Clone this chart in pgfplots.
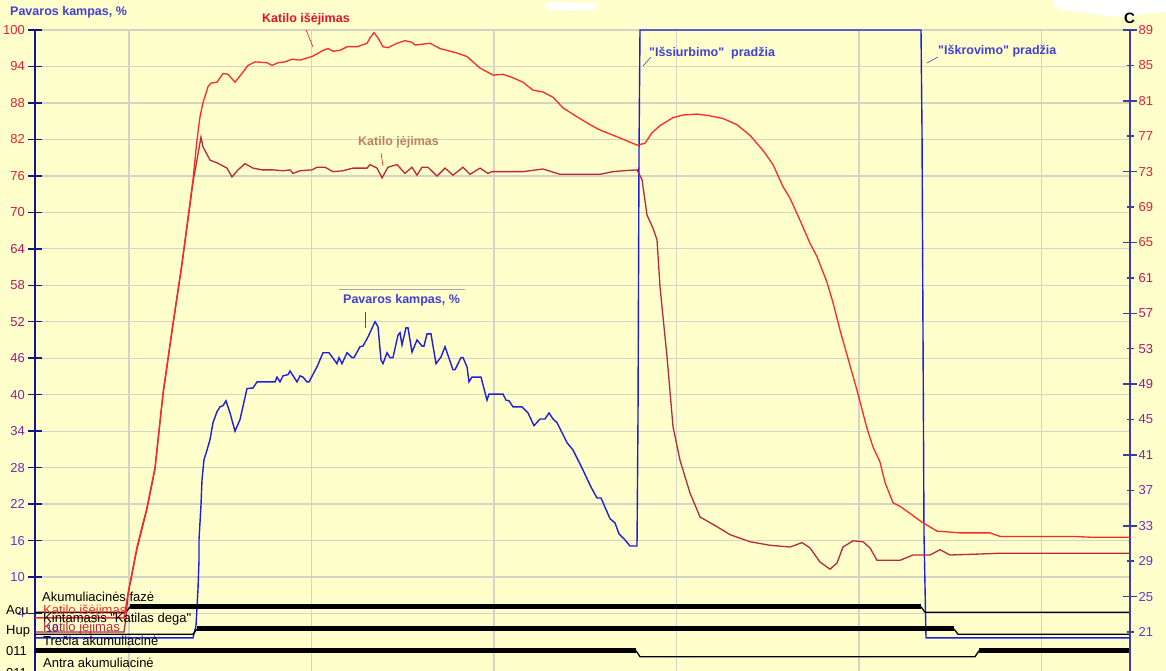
\documentclass[border=0pt]{standalone}
\usepackage{fontspec}
\setmainfont{Liberation Sans}
\usepackage{pgfplots}
\pgfplotsset{compat=1.18}
\definecolor{bgy}{RGB}{255,255,204}
\definecolor{gridc}{RGB}{212,212,196}
\definecolor{navyL}{RGB}{20,20,140}
\definecolor{navyR}{RGB}{60,60,170}
\definecolor{outred}{RGB}{255,40,40}
\definecolor{inred}{RGB}{185,40,60}
\definecolor{pblue}{RGB}{30,30,220}
\definecolor{blueT}{RGB}{64,64,216}
\definecolor{redT}{RGB}{232,16,40}
\definecolor{brownT}{RGB}{192,128,96}
\newcommand{\tc}[4]{\textcolor[RGB]{#1,#2,#3}{#4}}
\newcommand{\fR}{\fontsize{13}{15}\selectfont}
\newcommand{\fB}{\fontsize{12.5}{15}\selectfont\bfseries}
\newcommand{\q}{\textquotedbl}
\begin{document}
\begin{tikzpicture}[x=1pt,y=1pt]
\fill[bgy] (0,0) rectangle (1166,671);
\fill[white] (1053,671) -- (1053,664) -- (1063,661) -- (1100,656) -- (1125,654) -- (1150,658) -- (1166,659) -- (1166,671) -- cycle;
\fill[white] (545,663) -- (560,660) -- (595,661) -- (598,668) -- (548,669) -- cycle;
% ---------- left axis (Pavaros kampas, %) ----------
\begin{axis}[
  at={(35pt,0pt)}, anchor=south west,
  scale only axis, width=1095pt, height=641pt,
  xmin=35, xmax=1130, ymin=-5.46, ymax=100,
  axis y line*=left, axis x line*=bottom,
  x axis line style={draw=none},
  xtick={129,311.5,494,676.5,859,1041.5}, xticklabels={},
  xtick style={draw=none},
  ytick={4,10,...,100},
  yticklabels={{\tc{90}{60}{215}{4}},{\tc{95}{55}{210}{10}},{\tc{100}{50}{205}{16}},{\tc{110}{45}{190}{22}},{\tc{120}{40}{180}{28}},{\tc{130}{35}{165}{34}},{\tc{140}{35}{150}{40}},{\tc{150}{30}{140}{46}},{\tc{165}{25}{120}{52}},{\tc{180}{25}{105}{58}},{\tc{195}{20}{90}{64}},{\tc{210}{20}{70}{70}},{\tc{230}{30}{50}{76}},{\tc{230}{30}{50}{82}},{\tc{230}{30}{50}{88}},{\tc{230}{30}{50}{94}},{\tc{230}{30}{50}{100}}},
  xmajorgrids, ymajorgrids,
  major grid style={gridc, line width=1.3pt},
  y axis line style={navyL, line width=1.5pt},
  ytick style={navyL, line width=1.5pt},
  tick align=center, major tick length=14pt,
  yticklabel style={font=\fR, anchor=east, inner sep=0pt, xshift=-3pt},
]
% Pavaros kampas, %
\addplot[pblue, line width=1.4pt] coordinates {
(35,0)(193,0)(196,2)(198,8)(199,12.8)(199,16.1)(201,21.9)(202,26.0)(204,29.3)(207,30.9)(210,32.6)(213,35.4)(217,37.2)(220,38.0)(223,38.2)(226,39.0)(230,37.0)(235,34.0)(240,35.9)(247,41.0)(253,41.1)(257,42.1)(275,42.1)(277,42.9)(280,42.1)(283,43.1)(288,43.3)(290,43.9)(297,42.1)(300,43.1)(303,42.9)(307,42.1)(309,42.1)(317,44.6)(323,46.9)(329,46.9)(337,45.1)(339,46.1)(342,45.1)(347,46.9)(352,46.1)(354,46.1)(360,47.9)(363,48.0)(368,49.5)(375,52.0)(378,51.2)(381,45.7)(383,45.1)(387,46.9)(390,46.1)(393,46.1)(398,49.8)(400,50.2)(402,48.2)(406,51.0)(408,51.0)(412,47.0)(417,49.0)(422,48.0)(424,48.0)(427,50.0)(431,50.0)(436,45.1)(441,46.2)(445,47.9)(453,44.1)(455,44.1)(461,46.1)(463,46.1)(467,44.6)(469,42.1)(472,42.9)(481,42.9)(487,39.1)(489,40.1)(503,40.1)(506,39.1)(509,39.0)(513,38.0)(522,38.0)(528,37.0)(534,34.9)(540,36.0)(545,36.0)(549,37.0)(553,36.0)(557,35.4)(567,32.1)(573,30.9)(583,27.6)(591,24.8)(597,23.0)(601,23.0)(610,19.6)(615,18.9)(619,17.1)(625,16.1)(630,15.1)(637,15.1)(638,36.3)(639,80)(640,100)(921,100)(922,83.4)(923,50)(924,17)(926,0)(1130,0)};
% Acu
\addplot[black, line width=1.3pt] coordinates {(35,4.2)(126,4.2)(130,5.12)};
\addplot[black, line width=5pt] coordinates {(130,5.12)(921,5.12)};
\addplot[black, line width=1.3pt] coordinates {(921,5.12)(925,4.2)(1130,4.2)};
% Hup
\addplot[black, line width=1.3pt] coordinates {(35,0.58)(193,0.58)(197,1.45)};
\addplot[black, line width=5pt] coordinates {(197,1.45)(954,1.45)};
\addplot[black, line width=1.3pt] coordinates {(954,1.45)(958,0.58)(1130,0.58)};
% 011
\addplot[black, line width=5pt] coordinates {(35,-2.12)(636,-2.12)};
\addplot[black, line width=1.3pt] coordinates {(636,-2.12)(640,-3.11)(975,-3.11)(979,-2.12)};
\addplot[black, line width=5pt] coordinates {(979,-2.12)(1130,-2.12)};
\end{axis}
% ---------- right axis (C) ----------
\begin{axis}[
  at={(35pt,0pt)}, anchor=south west,
  scale only axis, width=1095pt, height=641pt,
  xmin=35, xmax=1130, ymin=16.60, ymax=89,
  axis y line*=right, axis x line=none,
  ytick={21,25,...,89},
  yticklabels={{\tc{90}{60}{215}{21}},{\tc{95}{55}{210}{25}},{\tc{100}{50}{205}{29}},{\tc{110}{45}{190}{33}},{\tc{120}{40}{180}{37}},{\tc{130}{35}{165}{41}},{\tc{140}{35}{150}{45}},{\tc{150}{30}{140}{49}},{\tc{165}{25}{120}{53}},{\tc{180}{25}{105}{57}},{\tc{200}{20}{80}{61}},{\tc{230}{30}{50}{65}},{\tc{230}{30}{50}{69}},{\tc{230}{30}{50}{73}},{\tc{230}{30}{50}{77}},{\tc{230}{30}{50}{81}},{\tc{230}{30}{50}{85}},{\tc{230}{30}{50}{89}}},
  extra y ticks={25,33,...,89}, extra y tick labels={},
  extra y tick style={major tick length=14pt},
  y axis line style={navyR, line width=1.5pt},
  ytick style={navyR, line width=1.5pt},
  tick align=center, major tick length=7pt,
  yticklabel style={font=\fR, anchor=west, inner sep=0pt, xshift=5pt},
]
\addplot[inred, line width=1.3pt] coordinates {
(35,21.0)(124,21.0)(126,22.6)(128,25.2)(137,30.4)(147,34.9)(155,39.4)(163,47.8)(173,55.7)(182,62.5)(193,71.8)(201,76.9)(203,75.8)(210,74.3)(217,74.0)(227,73.4)(232,72.4)(238,73.2)(245,73.9)(253,73.4)(262,73.2)(273,73.2)(283,73.1)(290,73.2)(293,72.8)(300,73.1)(312,73.2)(317,73.5)(325,73.5)(333,73.0)(343,73.1)(353,73.4)(367,73.4)(370,73.8)(377,73.4)(382,72.3)(388,73.5)(397,73.8)(405,72.8)(412,73.5)(417,72.6)(422,73.5)(428,73.5)(437,72.5)(445,73.4)(453,72.6)(463,73.5)(470,72.7)(480,73.4)(488,72.8)(492,73.0)(523,73.0)(543,73.3)(560,72.7)(600,72.7)(613,73.0)(623,73.1)(637,73.2)(642,72.1)(647,68.1)(653,66.6)(657,65.3)(660,60.0)(667,52.1)(673,44.2)(680,40.4)(690,36.7)(700,34.0)(717,32.9)(730,32.0)(750,31.2)(770,30.8)(790,30.6)(802,31.1)(810,30.5)(820,28.9)(830,28.1)(837,28.8)(843,30.6)(853,31.3)(863,31.2)(870,30.5)(877,29.1)(900,29.1)(913,29.7)(930,29.7)(940,30.3)(950,29.7)(977,29.8)(1000,29.9)(1130,29.9)};
\addplot[outred, line width=1.3pt] coordinates {
(35,22.6)(124,22.6)(128,25.4)(137,30.6)(147,35.1)(155,39.6)(163,48.0)(173,55.9)(182,62.7)(193,72.1)(197,76.6)(200,79.2)(203,80.8)(208,82.6)(211,83.0)(217,83.1)(223,84.1)(228,84.0)(235,83.1)(242,84.1)(248,85.0)(255,85.4)(267,85.3)(272,85.0)(278,85.3)(285,85.4)(292,85.7)(300,85.6)(306,85.8)(312,86.0)(317,86.3)(323,86.7)(328,86.9)(333,86.6)(340,86.7)(347,87.1)(357,87.1)(367,87.5)(370,88.1)(374,88.7)(378,88.1)(383,87.1)(388,87.0)(397,87.5)(405,87.8)(412,87.6)(415,87.3)(430,87.5)(440,86.9)(457,86.4)(467,86.0)(480,84.7)(493,83.9)(503,84.0)(513,83.6)(523,83.1)(533,82.2)(543,82.0)(553,81.4)(563,80.2)(577,79.2)(590,78.3)(600,77.7)(620,76.8)(637,76.0)(645,76.2)(652,77.4)(660,78.2)(673,79.1)(683,79.4)(697,79.5)(710,79.3)(723,79.0)(737,78.3)(750,77.1)(763,75.4)(773,73.8)(783,71.3)(790,70.0)(800,67.5)(810,64.9)(817,63.4)(827,60.5)(833,58.2)(840,55.1)(847,52.3)(857,48.3)(867,44.0)(873,41.9)(880,40.2)(885,37.9)(893,35.6)(900,35.2)(910,34.4)(922,33.4)(937,32.4)(960,32.2)(990,32.2)(1000,31.8)(1073,31.8)(1093,31.7)(1130,31.7)};
\end{axis}
% ---------- texts ----------
\node[anchor=west, inner sep=0, text=blueT, font=\fB] at (10,659) {Pavaros kampas, \%};
\node[inner sep=0, font=\fontsize{15}{17}\selectfont\bfseries] at (1129.5,653) {C};
\node[anchor=west, inner sep=0, text=redT, font=\fB] at (262,652) {Katilo išėjimas};
\draw[redT, line width=0.6pt] (306,641) -- (313,624);
\node[anchor=west, inner sep=0, text=brownT, font=\fB] at (358,529) {Katilo įėjimas};
\draw[redT, line width=0.6pt] (381,518) -- (383,505);
\draw[gray!70, line width=0.5pt] (339,382) -- (465,382);
\node[anchor=west, inner sep=0, text=blueT, font=\fB] at (343,370.5) {Pavaros kampas, \%};
\draw[blueT, line width=0.6pt] (365,359) -- (365,343);
\node[anchor=west, inner sep=0, text=blueT, font=\fB] at (649,618) {\q Išsiurbimo\q\ \ pradžia};
\draw[blueT, line width=0.6pt] (643,605) -- (651,614);
\node[anchor=west, inner sep=0, text=blueT, font=\fB] at (938,620) {\q Iškrovimo\q{} pradžia};
\draw[blueT, line width=0.6pt] (927,608) -- (938,614);
% bottom signal captions
\node[anchor=west, inner sep=0, font=\fR] at (42,74) {Akumuliacinės fazė};
\node[anchor=west, inner sep=0, font=\fR] at (6,61) {Acu};
\node[anchor=west, inner sep=0, font=\fR, text=outred] at (43,60) {Katilo išėjimas};
\node[anchor=west, inner sep=0, font=\fR] at (43,52) {Kintamasis \q Katilas dega\q};
\node[anchor=west, inner sep=0, font=\fR] at (6,40) {Hup};
\node[anchor=west, inner sep=0, font=\fR, text=inred] at (43,43) {Katilo įėjimas};
\node[anchor=west, inner sep=0, font=\fontsize{11}{13}\selectfont, text=pblue] at (46,42) {10};
\node[anchor=west, inner sep=0, font=\fR] at (43,30) {Trečia akumuliacinė};
\node[anchor=west, inner sep=0, font=\fR] at (6,20) {011};
\node[anchor=west, inner sep=0, font=\fR] at (43,8) {Antra akumuliacinė};
\node[anchor=west, inner sep=0, font=\fR] at (6,-2) {011};
\pgfresetboundingbox
\useasboundingbox (0,0) rectangle (1166,671);
\end{tikzpicture}
\end{document}
